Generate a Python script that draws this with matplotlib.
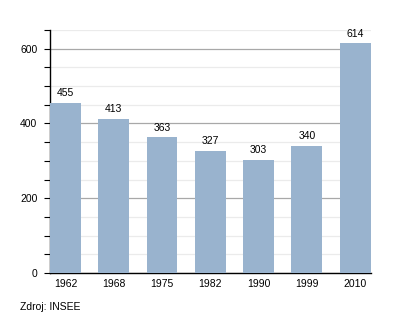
import matplotlib
matplotlib.use("Agg")
from matplotlib import pyplot as plt
from matplotlib.ticker import MultipleLocator

plt.rcParams['font.family'] = ['Liberation Sans', 'DejaVu Sans']

years = ['1962', '1968', '1975', '1982', '1990', '1999', '2010']
population = [455, 413, 363, 327, 303, 340, 614]

fig = plt.figure(figsize=(4.0, 3.23), dpi=100)
ax = fig.add_axes([0.125, 0.1548, 0.8025, 0.7522])

x = range(len(years))
ax.bar(x, population, width=0.64, color='#99b3ce', zorder=3)
for xi, v in zip(x, population):
    ax.text(xi, v + 12, str(v), ha='center', va='bottom', fontsize=7.5, zorder=4)

ax.set_xlim(-0.32, 6.33)
ax.set_ylim(0, 650)
ax.set_xticks(list(x))
ax.set_xticklabels(years)
ax.yaxis.set_major_locator(MultipleLocator(200))
ax.yaxis.set_minor_locator(MultipleLocator(50))

ax.grid(True, axis='y', which='major', color='#a8a8a8', lw=0.9, zorder=1)
ax.grid(True, axis='y', which='minor', color='#ebebeb', lw=0.9, zorder=0)

ax.spines['top'].set_visible(False)
ax.spines['right'].set_visible(False)
ax.spines['left'].set_linewidth(1.0)
ax.spines['bottom'].set_linewidth(1.0)
ax.tick_params(axis='x', length=0, labelsize=7.5, pad=4)
ax.tick_params(axis='y', which='both', length=4, width=0.8, direction='out', labelsize=7.5, pad=5)

fig.text(0.05, 0.034, 'Zdroj: INSEE', fontsize=7.5, ha='left', va='bottom')

fig.savefig('out.png', dpi=100)
